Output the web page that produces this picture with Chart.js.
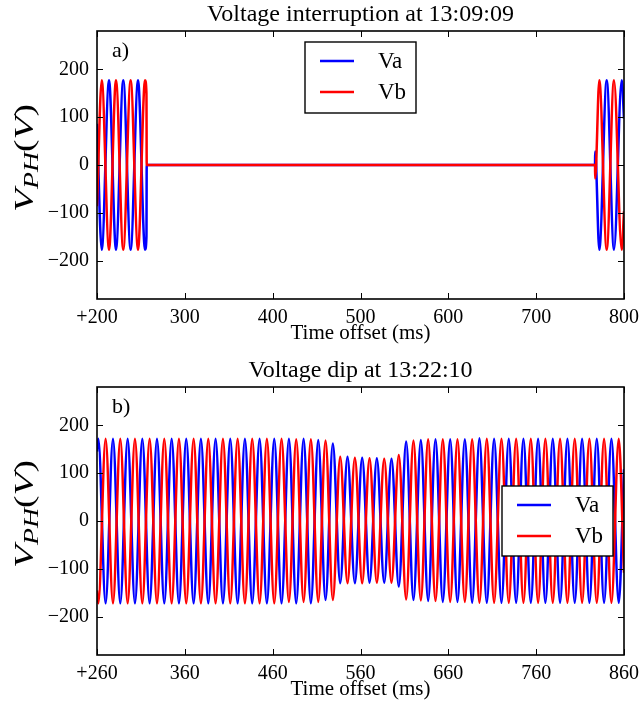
<!DOCTYPE html>
<html><head><meta charset="utf-8">
<script src="https://cdn.jsdelivr.net/npm/chart.js@4.4.0/dist/chart.umd.min.js"></script>
<style>
html,body{margin:0;padding:0;background:#fff;overflow:hidden;width:639px;height:704px}
canvas{display:block}
</style></head>
<body>
<canvas id="c1" width="639" height="356"></canvas>
<canvas id="c2" width="639" height="356"></canvas>
<script>
// ---------------- data ----------------
const seriesNames = ['Va', 'Vb'];
const titles = ['Voltage interruption at 13:09:09', 'Voltage dip at 13:22:10'];
const panelLabels = ['a)', 'b)'];
const xTitle = 'Time offset (ms)';

// Panel a: times (ms) of extrema / breakpoints and the voltages there
const tA  = [200, 205.4, 213.7, 221.6, 229.9, 238.3, 246.7, 254.7, 256.3, 256.6, 767.0, 767.2, 771.9, 780.3, 788.6, 797.4, 800];
const vaA = [86, -177, 177, -177, 177, -177, 177, -177, -150, 0, 0, 28, -177, 177, -177, 177, 97];
const vbA = [-86, 177, -177, 177, -177, 177, -177, 177, 150, 0, 0, -28, 177, -177, 177, -177, -97];

// Panel b: times (ms) of extrema and the voltages there
const tB = [260,
  261.5, 269.8, 278.2, 286.5, 294.9, 303.2, 311.6, 319.9, 328.3, 336.6,
  345.0, 353.3, 361.6, 370.0, 378.3, 386.7, 395.0, 403.4, 411.7, 420.1,
  428.4, 436.7, 445.1, 453.4, 461.8, 470.1, 478.5, 486.8, 495.2, 503.5,
  511.9, 520.2, 528.5, 536.9, 545.2, 553.6, 561.9, 570.3, 578.6, 587.0,
  595.3, 603.6, 612.0, 620.3, 628.7, 637.0, 645.4, 653.7, 662.1, 670.4,
  678.8, 687.1, 695.4, 703.8, 712.1, 720.5, 728.8, 737.2, 745.5, 753.9,
  762.2, 770.5, 778.9, 787.2, 795.6, 803.9, 812.3, 820.6, 829.0, 837.3,
  845.7, 854.0,
  860];
const vaB = [145,
  172,-172,172,-172,172,-172,172,-172,172,-172,
  172,-172,172,-172,172,-172,172,-172,172,-172,
  172,-172,172,-172,172,-172,172,-172,172,-172,
  169,-165,162,-130,134,-130,132,-129,131,-129,
  130,-137,166,-165,169,-167,171,-169,171,-169,
  171,-171,173,-171,172,-171,172,-171,172,-171,
  172,-171,172,-171,172,-171,172,-171,172,-171,
  172,-171,
  108];
const vbB = [-145,
  -172,172,-172,172,-172,172,-172,172,-172,172,
  -172,172,-172,172,-172,172,-172,172,-172,172,
  -172,172,-172,172,-172,172,-169,171,-169,171,
  -169,168,-165,134,-130,132,-130,131,-129,130,
  -129,138,-164,168,-166,171,-167,171,-169,171,
  -169,171,-171,172,-171,172,-171,172,-171,172,
  -171,172,-171,172,-171,172,-171,172,-171,172,
  -171,172,
  -108];

const xTicksA = [200, 300, 400, 500, 600, 700, 800];
const xTicksB = [260, 360, 460, 560, 660, 760, 860];
const yTicks = [-200, -100, 0, 100, 200];
const yRange = [-280, 280];

// ---------------- drawing ----------------
const FONT = "'Liberation Serif', 'Times New Roman', serif";
Chart.defaults.font.family = FONT;
Chart.defaults.color = '#000';

const framePlugin = {
  id: 'mplFrame',
  afterDatasetsDraw(chart, args, o) {
    const {ctx, chartArea: a, scales} = chart;
    const xs = scales.x, ys = scales.y;
    ctx.save();
    ctx.strokeStyle = '#000';
    ctx.lineWidth = 1;
    ctx.beginPath();
    xs.ticks.forEach(t => {
      const px = Math.round(xs.getPixelForValue(t.value)) + 0.5;
      ctx.moveTo(px, a.bottom); ctx.lineTo(px, a.bottom - 6);
      ctx.moveTo(px, a.top); ctx.lineTo(px, a.top + 6);
    });
    ys.ticks.forEach(t => {
      const py = Math.round(ys.getPixelForValue(t.value)) + 0.5;
      ctx.moveTo(a.left, py); ctx.lineTo(a.left + 6, py);
      ctx.moveTo(a.right, py); ctx.lineTo(a.right - 6, py);
    });
    ctx.stroke();
    ctx.lineWidth = 1.6;
    ctx.strokeRect(a.left, a.top, a.right - a.left, a.bottom - a.top);

    // title, centred over the plot area
    ctx.fillStyle = '#000';
    ctx.font = '24px ' + FONT;
    ctx.textAlign = 'center';
    ctx.textBaseline = 'middle';
    ctx.fillText(o.title, (a.left + a.right) / 2, 15);

    // panel letter
    ctx.font = '22px ' + FONT;
    ctx.textAlign = 'left';
    ctx.fillText(o.panel, a.left + 15, a.top + 20);

    // legend
    const b = o.legend;
    ctx.fillStyle = '#fff';
    ctx.fillRect(b.x, b.y, b.w, b.h);
    ctx.lineWidth = 1.4;
    ctx.strokeStyle = '#000';
    ctx.strokeRect(b.x, b.y, b.w, b.h);
    [0, 1].forEach((di, k) => {
      const ds = chart.data.datasets[di];
      const ry = b.y + 19 + k * 31;
      ctx.strokeStyle = ds.borderColor;
      ctx.lineWidth = 2.5;
      ctx.beginPath();
      ctx.moveTo(b.x + 15, ry); ctx.lineTo(b.x + 49, ry);
      ctx.stroke();
      ctx.fillStyle = '#000';
      ctx.font = '23px ' + FONT;
      ctx.textBaseline = 'middle';
      ctx.fillText(ds.label, b.x + 73, ry + 1);
    });
    ctx.restore();
  },
  afterDraw(chart, args, o) {
    // y axis label  V_PH(V)
    const ctx = chart.ctx;
    const parts = [
      {t: 'V', f: 'italic 27px ' + FONT, dy: 0},
      {t: 'PH', f: 'italic 20px ' + FONT, dy: 5},
      {t: '(', f: '27px ' + FONT, dy: 0},
      {t: 'V', f: 'italic 27px ' + FONT, dy: 0},
      {t: ')', f: '27px ' + FONT, dy: 0}
    ];
    ctx.save();
    let total = 0;
    parts.forEach(p => { ctx.font = p.f; p.w = ctx.measureText(p.t).width; total += p.w; });
    const sx = 108 / total;
    ctx.translate(33, 158);
    ctx.rotate(-Math.PI / 2);
    ctx.scale(sx, 1);
    ctx.fillStyle = '#000';
    ctx.textBaseline = 'alphabetic';
    ctx.textAlign = 'left';
    let u = -total / 2;
    parts.forEach(p => { ctx.font = p.f; ctx.fillText(p.t, u, p.dy); u += p.w; });
    ctx.restore();
  }
};

function fmt(v, first) {
  let s = String(v);
  if (v < 0) s = '\u2212' + String(-v);
  if (first) s = '+' + s;
  return s;
}

function makeChart(id, title, panel, t, va, vb, xTicks, legendBox) {
  const mk = arr => t.map((x, i) => ({x: x, y: arr[i]}));
  return new Chart(document.getElementById(id), {
    type: 'line',
    data: {
      datasets: [
        {label: seriesNames[0], data: mk(va), borderColor: '#0000ff', borderWidth: 2.5,
         pointRadius: 0, cubicInterpolationMode: 'monotone', fill: false, order: 1},
        {label: seriesNames[1], data: mk(vb), borderColor: '#ff0000', borderWidth: 2.5,
         pointRadius: 0, cubicInterpolationMode: 'monotone', fill: false, order: 0}
      ]
    },
    options: {
      responsive: false,
      devicePixelRatio: 1,
      animation: false,
      events: [],
      layout: {padding: {left: 0, right: 15, top: 31, bottom: 0}},
      plugins: {
        legend: {display: false},
        tooltip: {enabled: false},
        title: {display: false},
        mplFrame: {title: title, panel: panel, legend: legendBox}
      },
      scales: {
        x: {
          type: 'linear', min: xTicks[0], max: xTicks[xTicks.length - 1],
          afterBuildTicks: s => { s.ticks = xTicks.map(v => ({value: v})); },
          afterFit: s => { s.height = 57; s.paddingLeft = 0; s.paddingRight = 0; },
          grid: {display: false}, border: {display: false},
          ticks: {color: '#000', font: {family: FONT, size: 20}, padding: -1, maxRotation: 0, autoSkip: false,
                  callback: (v, i) => fmt(v, i === 0)},
          title: {display: true, text: xTitle, color: '#000', font: {family: FONT, size: 21},
                  padding: {top: 0, bottom: 10}}
        },
        y: {
          type: 'linear', min: yRange[0], max: yRange[1],
          afterBuildTicks: s => { s.ticks = yTicks.map(v => ({value: v})); },
          afterFit: s => { s.width = 97; s.paddingTop = 0; s.paddingBottom = 0; },
          grid: {display: false}, border: {display: false},
          ticks: {color: '#000', font: {family: FONT, size: 20}, padding: 0, autoSkip: false,
                  callback: v => fmt(v, false)}
        }
      }
    },
    plugins: [framePlugin]
  });
}

makeChart('c1', titles[0], panelLabels[0], tA, vaA, vbA, xTicksA, {x: 305, y: 42, w: 111, h: 71});
makeChart('c2', titles[1], panelLabels[1], tB, vaB, vbB, xTicksB, {x: 502, y: 130, w: 111, h: 70});
</script>
</body></html>
